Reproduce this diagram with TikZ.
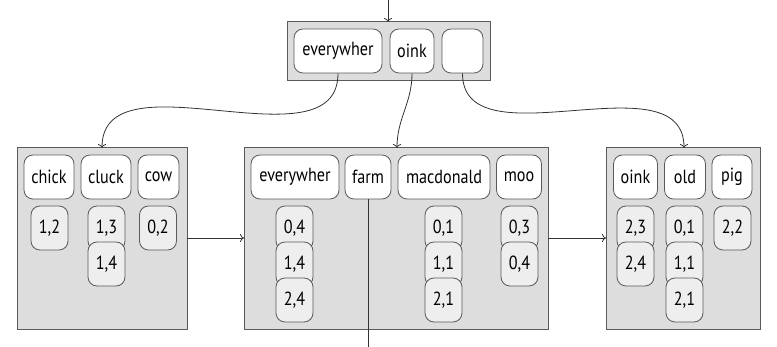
\documentclass[tikz,border=0pt]{standalone}
\usepackage{fontspec}
\setmainfont[FakeStretch=0.85]{PT Sans}
\usetikzlibrary{arrows.meta}
\definecolor{boxfill}{HTML}{DDDDDD}
\definecolor{boxline}{HTML}{5A5A5A}
\definecolor{valfill}{HTML}{EEEEEE}
\definecolor{lnk}{HTML}{333333}
\tikzset{
  page/.style={draw=boxline,fill=boxfill,line width=1pt},
  keybox/.style={draw=boxline,fill=white,rounded corners=9pt,line width=0.8pt,minimum height=44pt,inner sep=0pt,font=\fontsize{19}{19}\selectfont},
  valbox/.style={draw=boxline,fill=valfill,rounded corners=9pt,line width=0.8pt,minimum height=44pt,minimum width=37pt,inner sep=0pt,font=\fontsize{19}{19}\selectfont},
  link/.style={draw=lnk,line width=0.8pt,-{To[length=4pt,width=8pt]}},
}
\begin{document}
\begin{tikzpicture}[x=1pt,y=-1pt]
\useasboundingbox (0,0) rectangle (777,347);
% pages
\draw[page] (287,22) rectangle (490,81);
\draw[page] (17,148) rectangle (187,330);
\draw[page] (244,148) rectangle (548,330);
\draw[page] (606,148) rectangle (760,330);
\coordinate (topin) at (388,0);
\coordinate (topnorth) at (388,22);
\coordinate (Lnorth) at (102,148);
\coordinate (Mnorth) at (397,148);
\coordinate (Rnorth) at (684,148);
\coordinate (Least) at (187,238);
\coordinate (Mwest) at (244,238);
\coordinate (Meast) at (548,238);
\coordinate (Rwest) at (606,238);
\coordinate (farmend) at (368,347);
% root keys
\node[keybox,minimum width=88pt] (t1) at (338,51) {everywher};
\node[keybox,minimum width=44pt] (t2) at (412,51) {oink};
\node[keybox,minimum width=41pt] (t3) at (462.5,51) {};
% left page
\node[keybox,minimum width=50pt] (l1) at (49,177) {chick};
\node[keybox,minimum width=50pt] (l2) at (106,177) {cluck};
\node[keybox,minimum width=41pt] (l3) at (158.5,177) {cow};
\node[valbox] (l1a) at (49.5,228) {1,2};
\node[valbox] (l2a) at (106.5,228) {1,3};
\node[valbox] (l2b) at (106.5,264) {1,4};
\node[valbox] (l3a) at (158,228) {0,2};
% middle page
\node[keybox,minimum width=88pt] (m1) at (295,177) {everywher};
\node[keybox,minimum width=46pt] (m2) at (368,177) {farm};
\node[keybox,minimum width=92pt] (m3) at (444,177) {macdonald};
\node[keybox,minimum width=45pt] (m4) at (519,177) {moo};
\node[valbox] (m1a) at (294.5,228) {0,4};
\node[valbox] (m1b) at (294.5,264) {1,4};
\node[valbox] (m1c) at (294.5,300) {2,4};
\node[valbox] (m3a) at (443.5,228) {0,1};
\node[valbox] (m3b) at (443.5,264) {1,1};
\node[valbox] (m3c) at (443.5,300) {2,1};
\node[valbox] (m4a) at (519.5,228) {0,3};
\node[valbox] (m4b) at (519.5,264) {0,4};
% right page
\node[keybox,minimum width=44pt] (r1) at (635.5,177) {oink};
\node[keybox,minimum width=41pt] (r2) at (685,177) {old};
\node[keybox,minimum width=40pt] (r3) at (732,177) {pig};
\node[valbox] (r1a) at (635.5,228) {2,3};
\node[valbox] (r1b) at (635.5,264) {2,4};
\node[valbox] (r2a) at (684.5,228) {0,1};
\node[valbox] (r2b) at (684.5,264) {1,1};
\node[valbox] (r2c) at (684.5,300) {2,1};
\node[valbox] (r3a) at (732.5,228) {2,2};
% connectors
\draw[link] (topin) -- (topnorth);
\draw[link] (t1.south) to[out=-90,in=90] (Lnorth);
\draw[link] (t2.south) to[out=-90,in=90] (Mnorth);
\draw[link] (t3.south) to[out=-90,in=90] (Rnorth);
\draw[link] (Least) -- (Mwest);
\draw[link] (Meast) -- (Rwest);
\draw[draw=lnk,line width=0.8pt] (m2.south) -- (farmend);
\end{tikzpicture}
\end{document}
